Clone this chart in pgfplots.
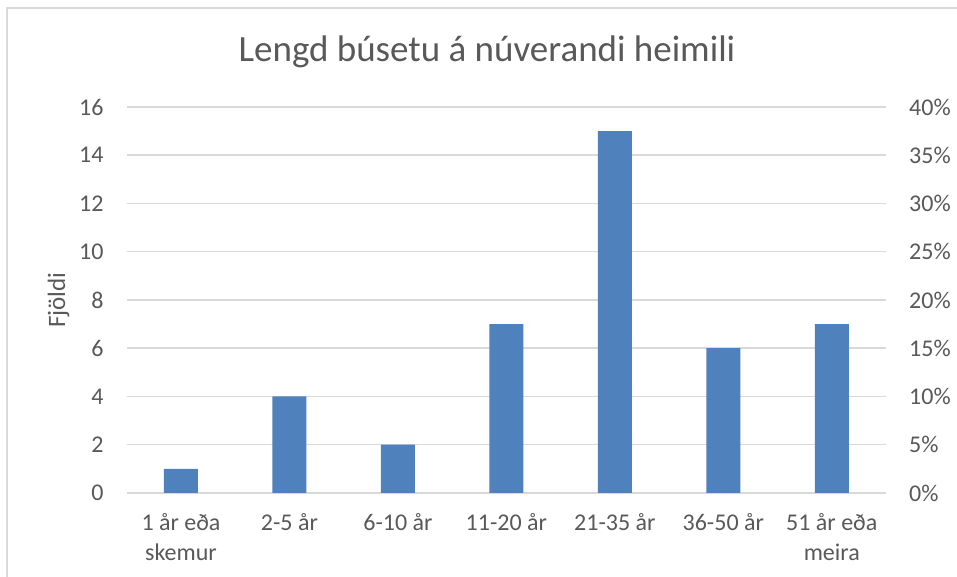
\documentclass[border=0pt]{standalone}
\usepackage{pgfplots}
\pgfplotsset{compat=1.18}
\usepackage{fontspec}
\setmainfont{Carlito}
\definecolor{barblue}{HTML}{4F81BD}
\definecolor{gridgray}{HTML}{D9D9D9}
\definecolor{txtgray}{HTML}{595959}
\begin{document}
\begin{tikzpicture}
\path[use as bounding box] (0,0) rectangle (957bp,577bp);
\fill[white] (0,0) rectangle (957bp,577bp);
\draw[gridgray, line width=2bp] (7bp,0) -- (7bp,569bp) -- (957bp,569bp);
\node[txtgray, font=\fontsize{37bp}{44bp}\selectfont, anchor=center] at (487bp,525bp) {Lengd búsetu á núverandi heimili};
\node[txtgray, font=\fontsize{25bp}{30bp}\selectfont, rotate=90, anchor=base] at (65bp,277bp) {Fjöldi};
\begin{axis}[
  at={(126.75bp,84bp)}, anchor=south west,
  scale only axis, width=759.25bp, height=386bp,
  xmin=-0.5, xmax=6.5, ymin=0, ymax=16,
  ytick={0,2,...,16},
  xtick={0,...,6},
  xticklabels={{1 år eða\\skemur},{2-5 år},{6-10 år},{11-20 år},{21-35 år},{36-50 år},{51 år eða\\meira}},
  xticklabel style={align=center, inner sep=0pt, yshift=-20bp},
  yticklabel style={inner sep=0pt, xshift=-23bp},
  ticklabel style={font=\fontsize{24bp}{30bp}\selectfont, text=txtgray},
  /pgf/number format/assume math mode=true,
  major tick length=0pt,
  tick style={draw=none},
  axis line style={draw=none},
  ymajorgrids, grid style={gridgray, line width=1.5bp},
  ybar, bar width=34bp,
]
\addplot[fill=barblue, draw=none] coordinates {(0,1) (1,4) (2,2) (3,7) (4,15) (5,6) (6,7)};
\end{axis}
\begin{axis}[
  at={(126.75bp,84bp)}, anchor=south west,
  scale only axis, width=759.25bp, height=386bp,
  xmin=-0.5, xmax=6.5, ymin=0, ymax=0.4,
  axis y line*=right, axis x line=none,
  ytick={0,0.05,0.1,0.15,0.2,0.25,0.3,0.35,0.4},
  yticklabels={0\%,5\%,10\%,15\%,20\%,25\%,30\%,35\%,40\%},
  yticklabel style={inner sep=0pt, xshift=23bp, anchor=west},
  ticklabel style={font=\fontsize{24bp}{30bp}\selectfont, text=txtgray},
  /pgf/number format/assume math mode=true,
  major tick length=0pt,
  tick style={draw=none},
  axis line style={draw=none},
]
\end{axis}
\end{tikzpicture}
\end{document}
